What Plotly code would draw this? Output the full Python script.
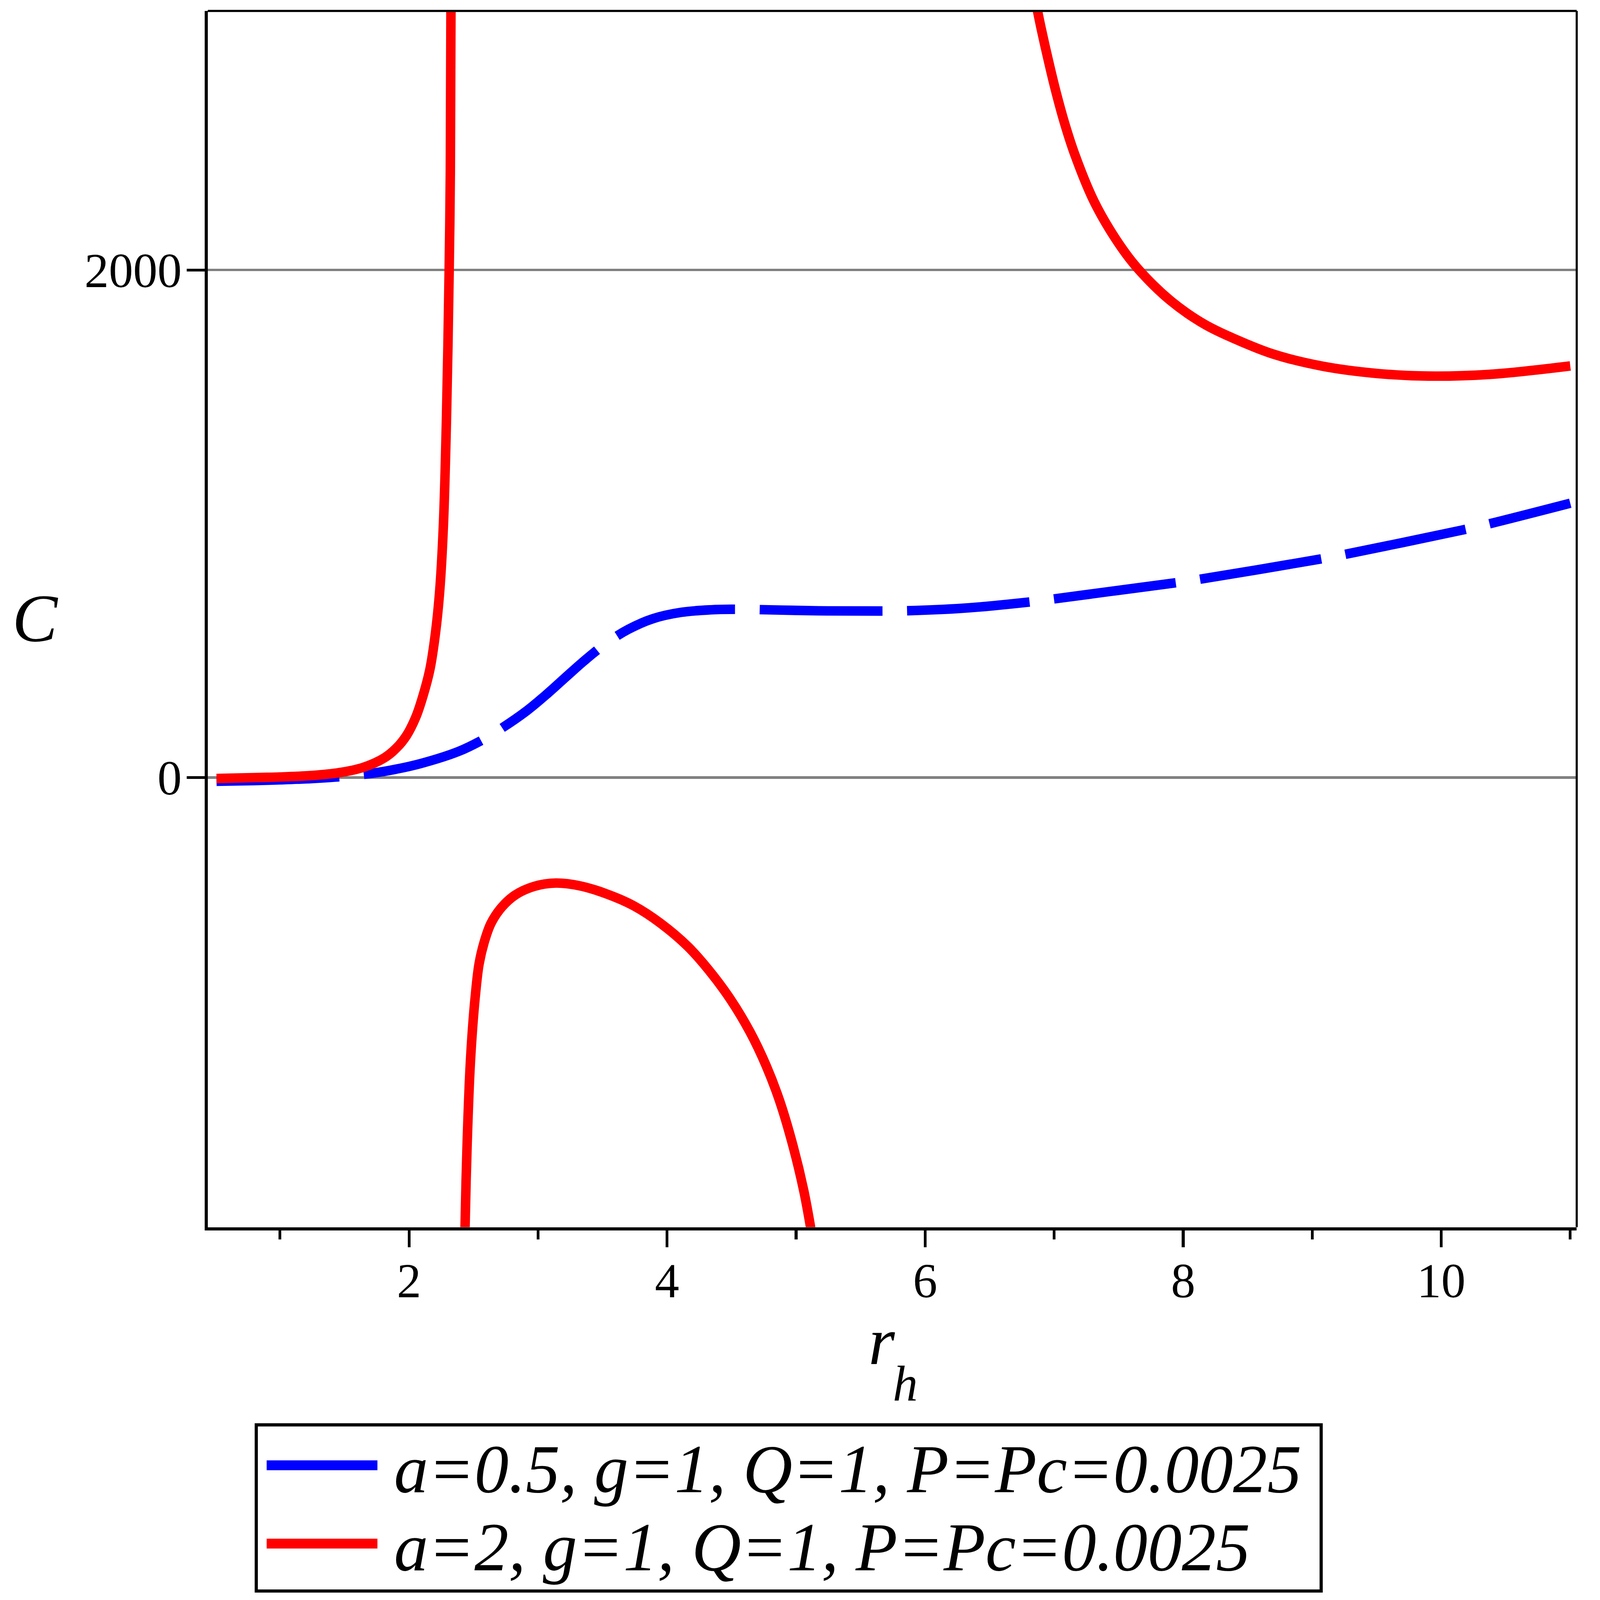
import plotly.graph_objects as go

# ---------------- data ----------------
blue_r = [0.508, 0.8, 1.0, 1.25, 1.456, 1.645, 1.85, 2.09, 2.385, 2.55, 2.72, 2.915,
          3.08, 3.22, 3.36, 3.53, 3.70, 3.89, 4.11, 4.34, 4.50, 5.17, 5.65, 5.84,
          6.29, 6.78, 6.97, 7.43, 7.92, 8.11, 9.03, 9.24, 10.16, 10.35, 11.0]
blue_C = [-15, -12, -9, -4, 3, 12, 28, 55, 103, 143, 195, 264,
          334, 398, 461, 530, 584, 626, 651, 661, 663, 657, 656, 657,
          667, 690, 702, 733, 766, 780, 858, 878, 975, 997, 1081]

red1_r = [0.508, 0.84, 1.0, 1.25, 1.456, 1.645, 1.81, 1.90, 1.98, 2.05, 2.095, 2.16,
          2.205, 2.238, 2.266, 2.29, 2.311, 2.32, 2.325]
red1_C = [-4, 0, 2, 8, 19, 40, 78, 115, 165, 235, 300, 422,
          570, 738, 991, 1412, 2000, 2389, 3047]

red2_r = [2.432, 2.4424, 2.4549, 2.4716, 2.4905, 2.5134, 2.5427, 2.5823, 2.6347, 2.7184,
          2.823, 2.970, 3.137, 3.325, 3.533, 3.743, 3.951, 4.161, 4.328, 4.495, 4.642,
          4.768, 4.872, 4.976, 5.060, 5.123]
red2_C = [-1819, -1586, -1373, -1160, -1001, -862, -735, -649, -575, -511,
          -463, -429, -416, -427, -459, -506, -575, -666, -762, -877, -1002,
          -1136, -1274, -1452, -1630, -1805]

red3_r = [6.86, 6.90, 6.96, 7.01, 7.08, 7.16, 7.30, 7.43, 7.60, 7.77, 7.90, 8.03, 8.18,
          8.34, 8.69, 9.08, 9.51, 9.90, 10.38, 11.0]
red3_C = [3049, 2950, 2815, 2710, 2580, 2455, 2280, 2160, 2035, 1940, 1880, 1830, 1782,
          1742, 1670, 1621, 1592, 1582, 1589, 1622]

x_major_ticks = [2, 4, 6, 8, 10]
x_minor_ticks = [1, 3, 5, 7, 9, 11]
y_ticks = [0, 2000]
legend_labels = ["a=0.5, g=1, Q=1, P=Pc=0.0025", "a=2, g=1, Q=1, P=Pc=0.0025"]
series_colors = ["#0000FF", "#FF0000"]

# ---------------- layout geometry (pixels of the 4492x4536 picture) ----------------
W, H = 4492, 4536
L, R, T, B = 589, 4470, 31, 3479
FONT = "Liberation Serif"


def px_x(px):
    return (px - L) / (R - L)


def px_y(py):
    return (B - py) / (B - T)


red_r = red1_r + [None] + red2_r + [None] + red3_r
red_C = red1_C + [None] + red2_C + [None] + red3_C

fig = go.Figure()
fig.add_trace(go.Scatter(
    x=blue_r, y=blue_C, mode="lines", name=legend_labels[0], showlegend=False,
    line=dict(color=series_colors[0], width=27, dash="348px,70px", shape="spline", smoothing=1.0),
))
fig.add_trace(go.Scatter(
    x=red_r, y=red_C, mode="lines", name=legend_labels[1], showlegend=False,
    connectgaps=False,
    line=dict(color=series_colors[1], width=27, shape="spline", smoothing=1.0),
))

fig.update_layout(
    width=W, height=H,
    margin=dict(l=L, r=W - R, t=T, b=H - B, pad=0),
    paper_bgcolor="white", plot_bgcolor="white",
    font=dict(family=FONT, color="black", size=138),
    showlegend=False,
)

fig.update_xaxes(
    range=[0.44, 11.05], tickvals=x_major_ticks, ticktext=[str(v) for v in x_major_ticks],
    ticks="outside", ticklen=48, tickwidth=8, tickcolor="black",
    tickfont=dict(family=FONT, size=138, color="black"), ticklabelstandoff=-24,
    showline=True, linewidth=9, linecolor="black", mirror=False,
    showgrid=False, zeroline=False,
    minor=dict(tickvals=x_minor_ticks, ticks="outside", ticklen=26, tickwidth=8,
               tickcolor="black", showgrid=False),
)
fig.update_yaxes(
    range=[-1772, 3021], tickvals=y_ticks, ticktext=[str(v) for v in y_ticks],
    ticks="outside", ticklen=51, tickwidth=8, tickcolor="black",
    tickfont=dict(family=FONT, size=138, color="black"), ticklabelstandoff=-14,
    showline=True, linewidth=9, linecolor="black", mirror=False,
    showgrid=True, gridcolor="#808080", gridwidth=7, zeroline=False,
)

# top / right frame
fig.add_shape(type="line", xref="paper", yref="paper", x0=0, x1=1, y0=1, y1=1,
              line=dict(color="black", width=6))
fig.add_shape(type="line", xref="paper", yref="paper", x0=1, x1=1, y0=0, y1=1,
              line=dict(color="black", width=6))

# axis titles
fig.add_annotation(text="<i>C</i>", xref="paper", yref="paper", x=px_x(100), y=px_y(1752),
                   xanchor="center", yanchor="middle", showarrow=False,
                   font=dict(family=FONT, size=192, color="black"))
fig.add_annotation(text="<i>r</i>", xref="paper", yref="paper", x=px_x(2500), y=px_y(3802),
                   xanchor="center", yanchor="middle", showarrow=False,
                   font=dict(family=FONT, size=192, color="black"))
fig.add_annotation(text="<i>h</i>", xref="paper", yref="paper", x=px_x(2566), y=px_y(3923),
                   xanchor="center", yanchor="middle", showarrow=False,
                   font=dict(family=FONT, size=142, color="black"))

# legend box
fig.add_shape(type="rect", xref="paper", yref="paper",
              x0=px_x(726.5), x1=px_x(3745.5), y0=px_y(4039.5), y1=px_y(4510.5),
              line=dict(color="black", width=9), fillcolor="rgba(0,0,0,0)")
row_line_y = [4154, 4376]
row_text_y = [4164.5, 4386.5]
for i in range(2):
    fig.add_shape(type="line", xref="paper", yref="paper",
                  x0=px_x(756), x1=px_x(1070), y0=px_y(row_line_y[i]), y1=px_y(row_line_y[i]),
                  line=dict(color=series_colors[i], width=28))
    fig.add_annotation(text="<i>" + legend_labels[i] + "</i>", xref="paper", yref="paper",
                       x=px_x(1115), y=px_y(row_text_y[i]), xanchor="left", yanchor="middle",
                       showarrow=False, font=dict(family=FONT, size=194, color="black"))

# fit the fixed-size figure exactly into the browser viewport
fit_script = """
(function(){
  var gd = document.getElementById('{plot_id}');
  document.documentElement.style.margin = '0';
  document.body.style.margin = '0';
  document.body.style.overflow = 'hidden';
  var s = Math.min(window.innerWidth / %d, window.innerHeight / %d);
  gd.style.transformOrigin = '0 0';
  gd.style.transform = 'scale(' + s + ')';
})();
""" % (W, H)

fig.write_html("out.html", post_script=fit_script, config={"displayModeBar": False})
